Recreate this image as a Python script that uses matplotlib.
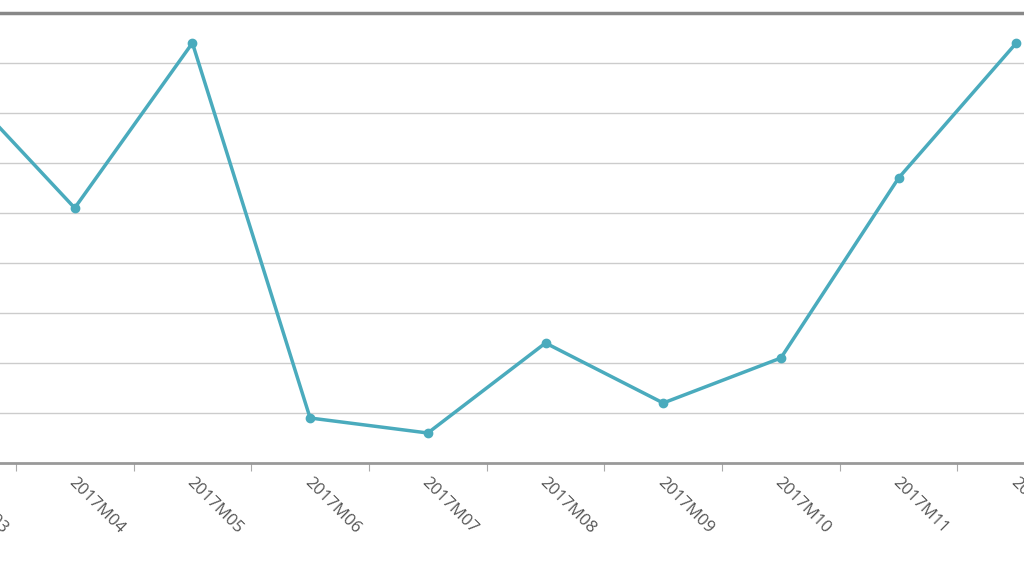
import matplotlib
matplotlib.use("Agg")
import matplotlib.pyplot as plt
import numpy as np

months = ["2017M03", "2017M04", "2017M05", "2017M06", "2017M07",
          "2017M08", "2017M09", "2017M10", "2017M11", "2017M12"]
values = [7.62, 5.1, 8.4, 0.9, 0.6, 2.4, 1.2, 2.1, 5.7, 8.4]

fig = plt.figure(figsize=(10.24, 5.76), dpi=100)
ax = fig.add_axes([0, 113/576, 1, 450/576])
x = np.arange(len(months))
ax.plot(x, values, color="#4aabbd", lw=2.5, marker="o", ms=6,
        markeredgecolor="#4aabbd", clip_on=False, zorder=3)

ax.set_xlim(43/117.7, 43/117.7 + 1024/117.7)
ax.set_ylim(0, 9)
ax.set_yticks(np.arange(1, 9))
ax.yaxis.grid(True, color="#cccccc", lw=1)
ax.tick_params(axis="y", left=False, labelleft=False)

ax.set_xticks(x[:-1] + 0.5)
ax.set_xticklabels([])
ax.tick_params(axis="x", direction="out", length=6, color="#aaaaaa")
for i, m in enumerate(months):
    ax.text(i - 0.03, -0.35, m, rotation=-45, rotation_mode="anchor",
            ha="left", va="center", fontsize=12, color="#555555",
            family="Open Sans", clip_on=False)

for s in ["left", "right"]:
    ax.spines[s].set_visible(False)
ax.spines["top"].set_color("#888888")
ax.spines["top"].set_linewidth(2.5)
ax.spines["bottom"].set_color("#999999")
ax.spines["bottom"].set_linewidth(2)

fig.savefig("out.png", dpi=100)
